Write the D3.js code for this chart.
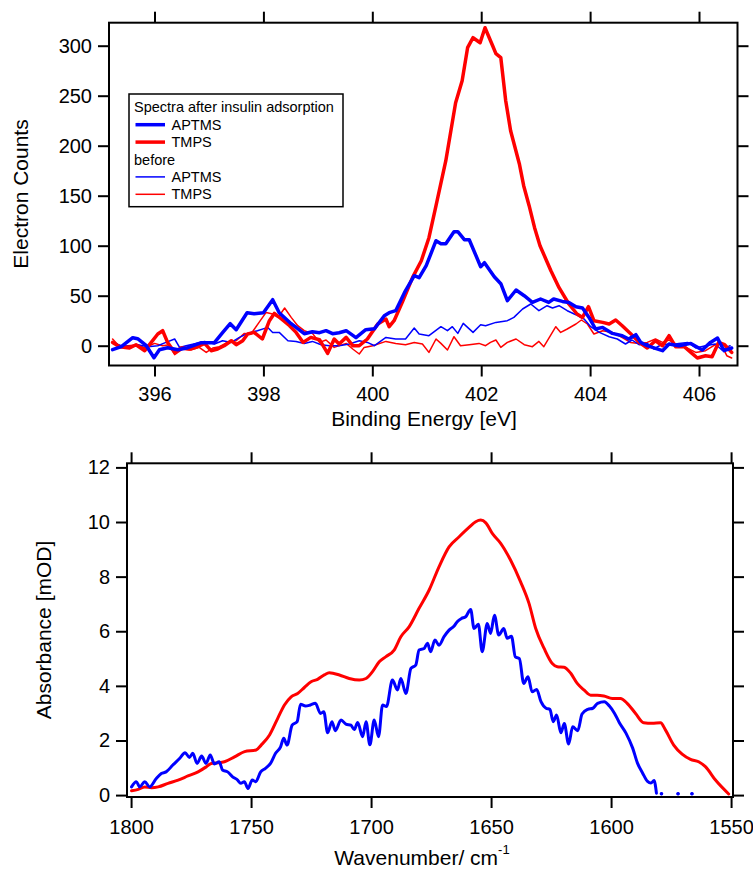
<!DOCTYPE html>
<html>
<head>
<meta charset="utf-8">
<script src="https://cdn.jsdelivr.net/npm/d3@7"></script>
<style>
  html, body { margin: 0; padding: 0; background: #fff; }
  svg { display: block; font-family: "Liberation Sans", Arial, sans-serif; }
</style>
</head>
<body>
<svg id="chart" width="753" height="873"></svg>
<script>
// ---------- XPS N 1s spectra: [binding energy (eV), electron counts] ----------
const aptmsAfter = [
  [395.23,-4],[395.39,-1],[395.60,8],[395.69,7],[395.85,0],[395.99,-12],[396.09,-4],[396.24,-2],
  [396.43,-4],[396.61,-2],[396.86,3],[397.10,3],[397.25,13],[397.39,22],[397.50,16],[397.70,33],
  [397.83,32],[398.00,33],[398.17,46],[398.29,33],[398.51,22],[398.75,12],[398.90,14],[399.03,13],
  [399.15,15],[399.27,12],[399.39,13],[399.52,15],[399.70,8],[399.88,16],[400.04,17],[400.22,30],
  [400.31,33],[400.43,35],[400.59,53],[400.77,70],[400.86,68],[400.99,80],[401.17,105],[401.26,102],
  [401.35,102],[401.50,114],[401.57,114],[401.69,106],[401.78,106],[401.99,79],[402.06,83],[402.24,69],
  [402.36,62],[402.48,45],[402.64,55.7],[402.79,50],[402.94,43.3],[403.09,46.7],[403.24,43.3],[403.33,46.7],
  [403.49,44.3],[403.61,43.3],[403.74,39],[403.86,37.7],[403.98,28.3],[404.10,16.7],[404.23,18.3],[404.41,12.3],
  [404.59,10],[404.71,6.7],[404.84,11],[404.93,3.3],[405.05,0],[405.20,-2.7],[405.33,-5],[405.45,1.7],
  [405.63,0],[405.85,2.3],[406.06,-4.3],[406.21,3.3],[406.34,7.7],[406.46,-5],[406.60,-2.3]
];
const tmpsAfter = [
  [395.23,3.3],[395.36,-1],[395.54,-2.3],[395.66,1],[395.82,-5],[395.94,3.3],[396.06,11.7],[396.15,15],
  [396.24,3.3],[396.37,-6.7],[396.49,-2.3],[396.64,-3.3],[396.76,-1.7],[396.92,2.3],[397.04,-5],[397.16,-3.3],
  [397.28,0],[397.41,5],[397.50,1],[397.62,5],[397.71,11.7],[397.83,13.3],[397.98,6.7],[398.11,25],
  [398.20,32.3],[398.33,26.7],[398.48,20],[398.60,13.3],[398.73,3.3],[398.87,8.3],[399.03,6],[399.18,-7.7],
  [399.30,6.7],[399.39,1.7],[399.52,8.3],[399.64,0],[399.76,0],[399.91,6.7],[400.10,21.7],[400.25,26.7],
  [400.31,19],[400.40,25],[400.55,43.3],[400.74,68.3],[400.90,85],[401.04,108],[401.17,140],[401.35,185],
  [401.53,243],[401.65,265],[401.75,298],[401.85,308],[401.98,303],[402.07,318],[402.21,300],[402.27,292],
  [402.36,288],[402.45,245],[402.54,215],[402.70,182],[402.78,160],[402.88,140],[402.98,118],[403.08,100],
  [403.20,85],[403.28,75],[403.43,58],[403.61,41.7],[403.76,31.7],[403.86,28.3],[403.97,39],[404.07,25],
  [404.23,23.3],[404.35,21.7],[404.47,25.7],[404.59,20],[404.74,12.3],[404.90,3.3],[405.05,-2.3],[405.20,5],
  [405.33,0],[405.45,10],[405.57,-1],[405.73,-1],[405.85,-6.7],[405.97,-12.3],[406.12,-10],[406.24,-11],
  [406.36,3.3],[406.47,1],[406.60,-6.7]
];
const aptmsBefore = [
  [395.23,3.3],[395.39,0],[395.57,-1],[395.69,1],[395.88,-1],[396.06,0],[396.21,3.3],[396.37,6.7],
  [396.46,-1.7],[396.58,0],[396.76,2.3],[396.92,4.3],[397.10,1.7],[397.25,5],[397.41,3.3],[397.56,8.3],
  [397.71,12.3],[397.89,15],[398.08,18.3],[398.17,13.3],[398.29,13.3],[398.45,5],[398.60,4.3],[398.75,2.3],
  [398.90,4.3],[399.06,1],[399.21,0],[399.39,0],[399.58,1.7],[399.76,5],[399.91,3.3],[400.04,0],
  [400.25,8.3],[400.43,6.7],[400.61,6.7],[400.77,17.7],[400.86,11.7],[401.04,10],[401.26,19],[401.38,15],
  [401.47,19],[401.57,12.3],[401.67,22.3],[401.85,13.3],[401.99,21],[402.08,20],[402.27,23.3],[402.48,25],
  [402.60,28.3],[402.76,36.7],[402.91,41.7],[403.06,35],[403.21,40],[403.31,37.7],[403.43,40],[403.58,35],
  [403.74,31],[403.89,26.7],[404.01,19],[404.17,13.3],[404.35,9],[404.50,6.7],[404.65,1.7],[404.77,5.7],
  [404.90,1],[405.05,2.3],[405.17,-3.3],[405.33,1.7],[405.48,1],[405.63,2.3],[405.79,3.3],[405.94,-2.3],
  [406.12,0],[406.30,1.7],[406.42,-4.3],[406.57,0]
];
const tmpsBefore = [
  [395.23,6.7],[395.36,-1],[395.51,0],[395.69,1],[395.82,-2.3],[396.00,2.3],[396.15,0],[396.27,1],
  [396.37,-9],[396.52,-3.3],[396.67,-4.3],[396.82,-1.7],[396.95,-6.7],[397.07,-2.3],[397.19,-1],[397.34,3.3],
  [397.50,5],[397.65,12.3],[397.77,11.7],[397.92,23.3],[398.05,33.3],[398.17,31.7],[398.27,28.3],[398.39,37.7],
  [398.51,28.3],[398.63,20],[398.75,15],[398.90,12.3],[399.03,3.3],[399.15,5.7],[399.30,-1.7],[399.52,2.3],
  [399.64,-3.3],[399.76,-8.3],[399.85,-1.7],[400.01,0],[400.25,4.3],[400.43,2.3],[400.61,1],[400.77,3.3],
  [400.92,1.7],[401.04,-6.7],[401.17,6.7],[401.26,2.3],[401.38,-4.3],[401.50,9],[401.62,0],[401.78,1],
  [401.96,2.3],[402.08,0],[402.17,3.3],[402.27,5.7],[402.36,-1.7],[402.48,3.3],[402.64,6.7],[402.79,1],
  [402.94,-1],[403.06,4.3],[403.15,-1],[403.37,19],[403.46,13.3],[403.58,16.7],[403.74,21.7],[403.84,25.7],
  [403.95,21.7],[404.07,11.7],[404.23,15],[404.41,13.3],[404.56,9],[404.74,3.3],[404.90,2.3],[405.05,3.3],
  [405.20,6.7],[405.33,3.3],[405.45,5.7],[405.57,1.7],[405.76,-1.7],[405.94,-6.7],[406.12,-5],[406.27,0],
  [406.39,3.3],[406.51,-10],[406.60,-12.3]
];

// ---------- IR amide I band: [wavenumber (cm-1), absorbance (mOD)]; null = not plotted ----------
const aptmsIR = [
  [1799.8,0.30],[1797.8,0.49],[1796.4,0.30],[1794.3,0.49],[1792.3,0.30],[1789.5,0.61],[1787.4,0.79],[1785.4,0.85],
  [1782.6,1.10],[1779.8,1.34],[1777.5,1.55],[1775.7,1.38],[1774.3,1.53],[1772.5,1.16],[1770.6,1.43],[1768.8,1.16],
  [1767.0,1.47],[1765.3,1.14],[1763.3,1.22],[1761.9,0.92],[1759.8,0.85],[1757.7,0.67],[1755.6,0.55],[1754.3,0.43],
  [1752.8,0.49],[1751.3,0.24],[1749.5,0.55],[1748.1,0.49],[1746.0,0.85],[1744.0,0.98],[1741.9,1.16],[1739.8,1.53],
  [1737.7,1.77],[1736.4,2.08],[1735.0,1.83],[1732.9,2.56],[1730.8,2.69],[1729.4,3.33],[1727.3,3.26],[1725.3,3.30],
  [1723.2,3.36],[1721.1,2.99],[1719.7,3.05],[1718.1,2.28],[1716.3,2.69],[1714.9,2.36],[1712.5,2.75],[1710.5,2.60],
  [1708.4,2.56],[1707.0,2.40],[1705.6,2.66],[1703.5,2.14],[1702.1,2.69],[1700.5,1.84],[1698.7,2.75],[1696.9,2.14],
  [1695.2,3.30],[1693.6,3.24],[1691.1,4.21],[1689.0,3.85],[1687.6,4.27],[1685.5,3.72],[1683.4,4.64],[1681.4,4.76],
  [1680.0,5.31],[1677.9,5.37],[1676.5,5.56],[1675.2,5.25],[1673.4,5.68],[1671.7,5.49],[1669.6,5.80],[1667.5,6.04],
  [1665.4,6.19],[1664.1,6.35],[1662.3,6.47],[1660.6,6.53],[1658.5,6.80],[1657.1,6.10],[1655.3,6.26],[1653.7,5.25],
  [1651.6,6.28],[1650.2,5.92],[1648.6,6.59],[1646.8,5.86],[1644.7,6.10],[1643.3,5.74],[1641.5,5.82],[1639.9,5.06],
  [1638.2,5.00],[1636.4,4.09],[1634.6,4.33],[1632.9,3.78],[1631.0,3.87],[1629.2,3.42],[1627.1,3.18],[1625.5,3.14],
  [1624.1,2.69],[1622.7,2.93],[1620.9,2.28],[1619.5,2.62],[1617.7,1.87],[1616.0,2.50],[1613.9,2.36],[1612.1,2.97],
  [1609.7,3.14],[1607.6,3.18],[1605.6,3.36],[1602.8,3.42],[1600.7,3.26],[1598.6,3.00],[1596.6,2.66],[1593.8,2.27],
  [1591.0,1.72],[1589.0,1.17],[1586.9,0.81],[1584.8,0.50],[1583.4,0.44],[1582.1,0.53],[1581.1,0.07],
  [1580.0,null],[1579.0,0.05],[1578.0,null],[1572.1,0.05],[1571.0,null],[1566.3,0.05],[1565.0,null]
];
const tmpsIR = [
  [1799.8,0.16],[1797.0,0.21],[1794.3,0.30],[1791.5,0.27],[1788.7,0.30],[1784.6,0.43],[1780.4,0.55],[1776.3,0.70],
  [1772.1,0.85],[1768.6,1.04],[1766.6,1.16],[1763.8,1.18],[1761.1,1.22],[1756.9,1.40],[1752.7,1.59],[1747.9,1.65],
  [1745.8,1.83],[1742.3,2.20],[1738.9,2.81],[1736.1,3.30],[1733.3,3.60],[1730.6,3.72],[1727.8,3.94],[1725.0,4.15],
  [1722.3,4.24],[1719.5,4.40],[1717.4,4.48],[1713.2,4.40],[1709.1,4.27],[1704.9,4.21],[1702.1,4.27],[1699.4,4.52],
  [1696.6,4.88],[1693.8,5.07],[1690.4,5.31],[1687.6,5.80],[1684.1,6.17],[1680.0,6.84],[1675.8,7.51],[1671.7,8.36],
  [1667.5,9.09],[1663.3,9.46],[1659.2,9.80],[1656.4,10.01],[1654.3,10.07],[1652.2,9.97],[1649.5,9.58],[1646.0,9.22],
  [1641.9,8.61],[1637.7,7.81],[1634.2,7.02],[1631.4,6.10],[1627.9,5.37],[1624.5,4.82],[1622.4,4.70],[1619.6,4.68],
  [1616.8,4.46],[1614.1,4.09],[1611.3,3.85],[1608.5,3.66],[1605.8,3.66],[1603.0,3.63],[1599.5,3.54],[1596.1,3.54],
  [1593.3,3.36],[1589.8,2.99],[1586.4,2.65],[1582.9,2.63],[1579.4,2.65],[1577.3,2.38],[1573.9,1.83],[1570.4,1.50],
  [1566.9,1.31],[1563.5,1.22],[1560.7,1.04],[1556.5,0.55],[1551.0,0.04]
];

// ---------- axis ticks and texts ----------
const xpsTicksX = [396, 398, 400, 402, 404, 406];
const xpsTicksY = [0, 50, 100, 150, 200, 250, 300];
const irTicksX = [1800, 1750, 1700, 1650, 1600, 1550];
const irTicksY = [0, 2, 4, 6, 8, 10, 12];
const legendRows = [
  { text: "Spectra after insulin adsorption" },
  { text: "APTMS", color: "#0000ff", width: 3.5 },
  { text: "TMPS", color: "#ff0000", width: 3.5 },
  { text: "before" },
  { text: "APTMS", color: "#0000ff", width: 1.5 },
  { text: "TMPS", color: "#ff0000", width: 1.5 }
];

const svg = d3.select("#chart");
const BLUE = "#0000ff", RED = "#ff0000";
const TICK = 11;

// Draws a boxed Igor-style panel with mirrored outward ticks on all four sides.
function drawPanel(p) {
  const g = svg.append("g");
  const x = d3.scaleLinear().domain(p.xDomain).range([p.left, p.right]);
  const y = d3.scaleLinear().domain(p.yDomain).range([p.bottom, p.top]);

  const clipId = p.id + "-clip";
  svg.append("clipPath").attr("id", clipId)
    .append("rect").attr("x", p.left).attr("y", p.top)
    .attr("width", p.right - p.left).attr("height", p.bottom - p.top);

  const styleAxis = (sel, labels) => {
    sel.select(".domain").remove();
    sel.selectAll(".tick line").attr("stroke", "#000").attr("stroke-width", 2);
    sel.selectAll(".tick text").attr("fill", "#000").attr("font-size", 20)
      .attr("font-family", "\"Liberation Sans\", Arial, sans-serif");
    if (!labels) sel.selectAll(".tick text").remove();
  };

  g.append("g").attr("transform", `translate(0,${p.bottom})`)
    .call(d3.axisBottom(x).tickValues(p.xTicks).tickSize(TICK).tickPadding(p.xPad).tickFormat(d3.format("d")))
    .call(s => styleAxis(s, true));
  g.append("g").attr("transform", `translate(0,${p.top})`)
    .call(d3.axisTop(x).tickValues(p.xTicks).tickSize(TICK))
    .call(s => styleAxis(s, false));
  g.append("g").attr("transform", `translate(${p.left},0)`)
    .call(d3.axisLeft(y).tickValues(p.yTicks).tickSize(TICK).tickPadding(6).tickFormat(d3.format("d")))
    .call(s => styleAxis(s, true));
  g.append("g").attr("transform", `translate(${p.right},0)`)
    .call(d3.axisRight(y).tickValues(p.yTicks).tickSize(TICK))
    .call(s => styleAxis(s, false));

  const plot = g.append("g").attr("clip-path", `url(#${clipId})`);
  const line = d3.line()
    .defined(d => d[1] !== null)
    .curve(p.curve || d3.curveLinear)
    .x(d => x(d[0])).y(d => y(d[1]));

  p.series.forEach(s => {
    plot.append("path").datum(s.data)
      .attr("d", line)
      .attr("fill", "none").attr("stroke", s.color).attr("stroke-width", s.width)
      .attr("stroke-linejoin", "round").attr("stroke-linecap", "round");
    // isolated points (between gaps) are drawn as dots
    s.data.forEach((d, i) => {
      if (d[1] === null) return;
      const prev = s.data[i - 1], next = s.data[i + 1];
      const lonely = (!prev || prev[1] === null) && (!next || next[1] === null);
      if (lonely) {
        plot.append("circle").attr("cx", x(d[0])).attr("cy", y(d[1]))
          .attr("r", s.width / 2 + 0.3).attr("fill", s.color);
      }
    });
  });

  g.append("rect")
    .attr("x", p.left).attr("y", p.top)
    .attr("width", p.right - p.left).attr("height", p.bottom - p.top)
    .attr("fill", "none").attr("stroke", "#000").attr("stroke-width", 2);

  return { g, x, y };
}

// ---------- top panel: XPS ----------
drawPanel({
  id: "xps",
  left: 109, right: 737.5, top: 22.7, bottom: 365.5,
  xDomain: [395.164, 406.707], yDomain: [-19.8, 323],
  xTicks: xpsTicksX, yTicks: xpsTicksY, xPad: 10,
  series: [
    { data: tmpsBefore, color: RED, width: 1.5 },
    { data: aptmsBefore, color: BLUE, width: 1.5 },
    { data: tmpsAfter, color: RED, width: 3.5 },
    { data: aptmsAfter, color: BLUE, width: 3.5 }
  ]
});

svg.append("text").attr("x", 424).attr("y", 426)
  .attr("text-anchor", "middle").attr("font-size", 21).text("Binding Energy [eV]");
svg.append("text").attr("transform", "translate(28,194) rotate(-90)")
  .attr("text-anchor", "middle").attr("font-size", 21).text("Electron Counts");

// legend
const leg = svg.append("g");
leg.append("rect").attr("x", 129).attr("y", 94).attr("width", 214).attr("height", 112.7)
  .attr("fill", "#fff").attr("stroke", "#000").attr("stroke-width", 1.5);
legendRows.forEach((r, i) => {
  const base = 112.3 + i * 17.4;
  if (r.color) {
    leg.append("line").attr("x1", 135.5).attr("x2", 165).attr("y1", base - 5).attr("y2", base - 5)
      .attr("stroke", r.color).attr("stroke-width", r.width);
    leg.append("text").attr("x", 171.5).attr("y", base).attr("font-size", 14.5).text(r.text);
  } else {
    leg.append("text").attr("x", 134).attr("y", base).attr("font-size", 14.5).text(r.text);
  }
});

// ---------- bottom panel: IR ----------
drawPanel({
  id: "ir",
  left: 127, right: 733, top: 463.3, bottom: 797,
  xDomain: [1801.7, 1549.2], yDomain: [-0.07, 12.15],
  xTicks: irTicksX, yTicks: irTicksY, xPad: 12,
  curve: d3.curveMonotoneX,
  series: [
    { data: tmpsIR, color: RED, width: 3 },
    { data: aptmsIR, color: BLUE, width: 3 }
  ]
});

const xt = svg.append("text").attr("x", 422).attr("y", 865)
  .attr("text-anchor", "middle").attr("font-size", 21);
xt.append("tspan").text("Wavenumber/ cm");
xt.append("tspan").attr("font-size", 13).attr("dy", -11).text("-1");
svg.append("text").attr("transform", "translate(51,630) rotate(-90)")
  .attr("text-anchor", "middle").attr("font-size", 21).text("Absorbance [mOD]");
</script>
</body>
</html>
